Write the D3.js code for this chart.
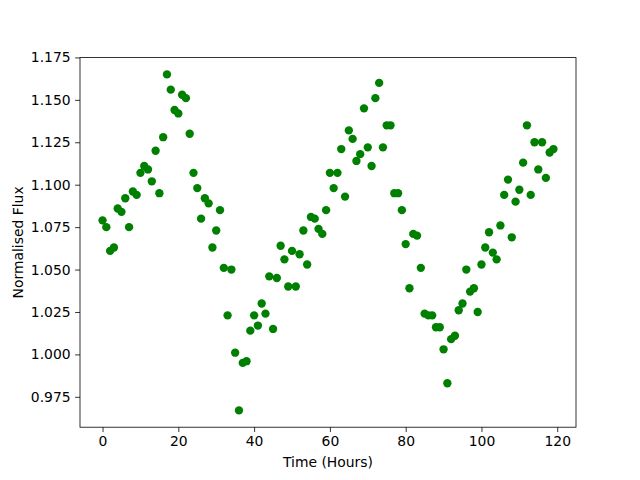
<!DOCTYPE html>
<meta charset="utf-8">
<head>
	<title>Normalised Flux</title>
	<script type="text/javascript" src="https://cdn.jsdelivr.net/npm/d3@7"></script>
	<style>
		body { margin: 0; background: #fff; }
		text { font-family: "DejaVu Sans", sans-serif; }
	</style>
</head>
<body>
	<div id="chart"></div>
	<script>

		// hours 0..119, one reading per hour
		const hours = d3.range(0, 120);

		const flux = [
			1.079, 1.075, 1.061, 1.063, 1.086, 1.084, 1.092, 1.075, 1.096, 1.094,
			1.107, 1.111, 1.109, 1.102, 1.120, 1.095, 1.128, 1.165, 1.156, 1.144,
			1.142, 1.153, 1.151, 1.130, 1.107, 1.098, 1.080, 1.092, 1.089, 1.063,
			1.073, 1.085, 1.051, 1.023, 1.050, 1.001, 0.967, 0.995, 0.996, 1.014,
			1.023, 1.017, 1.030, 1.024, 1.046, 1.015, 1.045, 1.064, 1.056, 1.040,
			1.061, 1.040, 1.059, 1.073, 1.053, 1.081, 1.080, 1.074, 1.071, 1.085,
			1.107, 1.098, 1.107, 1.121, 1.093, 1.132, 1.127, 1.114, 1.118, 1.145,
			1.122, 1.111, 1.151, 1.160, 1.122, 1.135, 1.135, 1.095, 1.095, 1.085,
			1.065, 1.039, 1.071, 1.070, 1.051, 1.024, 1.023, 1.023, 1.016, 1.016,
			1.003, 0.983, 1.009, 1.011, 1.026, 1.030, 1.050, 1.037, 1.039, 1.025,
			1.053, 1.063, 1.072, 1.060, 1.056, 1.076, 1.094, 1.103, 1.069, 1.090,
			1.097, 1.113, 1.135, 1.094, 1.125, 1.109, 1.125, 1.104, 1.119, 1.121
		];

		const xTicks = [0, 20, 40, 60, 80, 100, 120];
		const yTicks = [0.975, 1.000, 1.025, 1.050, 1.075, 1.100, 1.125, 1.150, 1.175];

		const width = 640;
		const height = 480;
		const margin = {left: 80, right: 64, top: 57.6, bottom: 52.8};

		const svg = d3.select("#chart")
			.append("svg")
			.attr("width", width)
			.attr("height", height);

		// pad the data extent by 5% each side, like matplotlib does
		function padded(ext) {
			const r = ext[1] - ext[0];
			return [ext[0] - 0.05 * r, ext[1] + 0.05 * r];
		}

		const x = d3.scaleLinear()
			.domain(padded(d3.extent(hours)))
			.range([margin.left, width - margin.right]);

		const y = d3.scaleLinear()
			.domain(padded(d3.extent(flux)))
			.range([height - margin.bottom, margin.top]);

		const tickLen = 4.86;

		const xAxis = svg.append("g")
			.attr("transform", `translate(0,${height - margin.bottom})`)
			.call(d3.axisBottom(x).tickValues(xTicks).tickSize(tickLen).tickPadding(4.5).tickFormat(d3.format("d")));

		const yAxis = svg.append("g")
			.attr("transform", `translate(${margin.left},0)`)
			.call(d3.axisLeft(y).tickValues(yTicks).tickSize(tickLen).tickPadding(4.5).tickFormat(d3.format(".3f")));

		[xAxis, yAxis].forEach(function (g) {
			g.select(".domain").remove();
			g.selectAll("line").attr("stroke", "#000").attr("stroke-width", 0.8);
			g.selectAll("text")
				.attr("fill", "#000")
				.style("font-size", "13.9px")
				.style("font-family", "'DejaVu Sans', sans-serif");
		});

		// points
		svg.append("g")
			.selectAll("circle")
			.data(hours)
			.enter()
			.append("circle")
			.attr("cx", function (d) { return x(d); })
			.attr("cy", function (d, i) { return y(flux[i]); })
			.attr("r", 4.17)
			.attr("fill", "#008000");

		// frame
		svg.append("rect")
			.attr("x", margin.left)
			.attr("y", margin.top)
			.attr("width", width - margin.left - margin.right)
			.attr("height", height - margin.top - margin.bottom)
			.attr("fill", "none")
			.attr("stroke", "#000")
			.attr("stroke-width", 0.8);

		svg.append("text")
			.attr("x", (margin.left + width - margin.right) / 2)
			.attr("y", 467)
			.attr("text-anchor", "middle")
			.style("font-size", "13.9px")
			.text("Time (Hours)");

		svg.append("text")
			.attr("transform", `translate(22.5,${(margin.top + height - margin.bottom) / 2}) rotate(-90)`)
			.attr("text-anchor", "middle")
			.style("font-size", "13.9px")
			.text("Normalised Flux");
    </script>
</body>
</html>
